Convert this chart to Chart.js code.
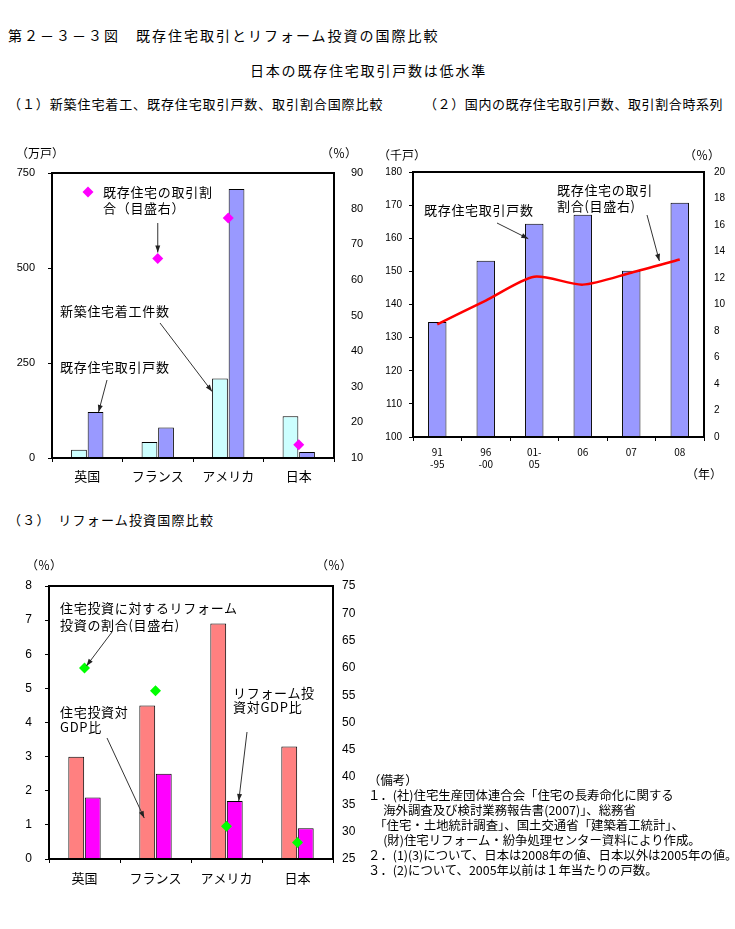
<!DOCTYPE html>
<html lang="ja">
<head>
<meta charset="utf-8">
<script src="https://cdn.jsdelivr.net/npm/chart.js@4.4.0/dist/chart.umd.min.js"></script>
<style>
body { margin: 0; background: #fff; }
#page { position: relative; width: 735px; height: 929px; font-family: 'Noto Sans CJK JP', sans-serif; color: #000; }
.t { position: absolute; white-space: pre; line-height: 16px; font-size: 13px; letter-spacing: 0.7px; }
.u { position: absolute; white-space: pre; line-height: 16px; font-size: 12px; }
canvas { position: absolute; }
#notes { position: absolute; left: 368px; top: 773px; font-size: 12.4px; line-height: 15px; white-space: pre; }
</style>
</head>
<body>
<div id="page">
  <div class="t" style="left:8px;top:27px;font-size:14px;letter-spacing:2px">第２－３－３図　既存住宅取引とリフォーム投資の国際比較</div>
  <div class="t" style="left:250px;top:62px;font-size:14px;letter-spacing:1.8px">日本の既存住宅取引戸数は低水準</div>
  <div class="t" style="left:8px;top:96px;letter-spacing:0.9px">（１）新築住宅着工、既存住宅取引戸数、取引割合国際比較</div>
  <div class="t" style="left:424px;top:96px;letter-spacing:0.6px">（２）国内の既存住宅取引戸数、取引割合時系列</div>
  <div class="t" style="left:8px;top:512px;letter-spacing:1.2px">（３）　リフォーム投資国際比較</div>

  <canvas id="c1" width="370" height="350" style="left:0;top:140px"></canvas>
  <canvas id="c2" width="365" height="350" style="left:370px;top:140px"></canvas>
  <canvas id="c3" width="370" height="340" style="left:0;top:550px"></canvas>

  <div class="u" style="left:16px;top:145px">（万戸）</div>
  <div class="u" style="left:321px;top:145px">（％）</div>
  <div class="t" style="left:103px;top:184px">既存住宅の取引割</div>
  <div class="t" style="left:103px;top:200px">合（目盛右）</div>
  <div class="t" style="left:60px;top:303px">新築住宅着工件数</div>
  <div class="t" style="left:60px;top:359px">既存住宅取引戸数</div>

  <div class="u" style="left:378px;top:147px">（千戸）</div>
  <div class="u" style="left:684px;top:147px">（％）</div>
  <div class="u" style="left:686px;top:466px">（年）</div>
  <div class="t" style="left:424px;top:202px">既存住宅取引戸数</div>
  <div class="t" style="left:557px;top:182px">既存住宅の取引</div>
  <div class="t" style="left:557px;top:198px">割合(目盛右)</div>

  <div class="u" style="left:26px;top:557px">（％）</div>
  <div class="u" style="left:316px;top:557px">（％）</div>
  <div class="t" style="left:60px;top:600px">住宅投資に対するリフォーム</div>
  <div class="t" style="left:60px;top:617px">投資の割合(目盛右)</div>
  <div class="t" style="left:60px;top:704px">住宅投資対</div>
  <div class="t" style="left:60px;top:719px">GDP比</div>
  <div class="t" style="left:233px;top:685px">リフォーム投</div>
  <div class="t" style="left:233px;top:699px">資対GDP比</div>

  <div id="notes">（備考）
１．(社)住宅生産団体連合会「住宅の長寿命化に関する
　 海外調査及び検討業務報告書(2007)」、総務省
　「住宅・土地統計調査」、国土交通省「建築着工統計」、
　 (財)住宅リフォーム・紛争処理センター資料により作成。
２．(1)(3)について、日本は2008年の値、日本以外は2005年の値。
３．(2)について、2005年以前は１年当たりの戸数。</div>
</div>

<script>
// (1) international comparison, 万戸 / %
var countries = ['英国', 'フランス', 'アメリカ', '日本'];
var newStarts = [22, 42, 209, 110];
var existingSales = [121, 80, 708, 16];
var existingShare = [null, 66, 77.4, 13.7];

// (2) Japan time series, 千戸 / %
var periods = [['91', '-95'], ['96', '-00'], ['01-', '05'], '06', '07', '08'];
var jpSales = [134.7, 153.2, 164.4, 167.1, 150.2, 170.7];
var jpShare = [8.5, 10.3, 12.1, 11.5, 12.4, 13.4];

// (3) reform investment, %
var investGdp = [3.0, 4.5, 6.9, 3.3];
var reformGdp = [1.8, 2.5, 1.7, 0.9];
var reformShare = [60, 55.8, 31, 28];

Chart.defaults.font.family = "'Noto Sans CJK JP', sans-serif";
Chart.defaults.color = '#000';
Chart.defaults.animation = false;

var numFont = function (size) { return { family: "'Liberation Sans', Arial, sans-serif", size: size }; };

// black frame round the plot area
var frame = {
  id: 'frame',
  afterDraw: function (chart) {
    var a = chart.chartArea, ctx = chart.ctx;
    ctx.save();
    ctx.strokeStyle = '#000';
    ctx.lineWidth = 2;
    ctx.strokeRect(a.left, a.top, a.right - a.left, a.bottom - a.top);
    ctx.restore();
  }
};

function arrow(ctx, x1, y1, x2, y2) {
  var ang = Math.atan2(y2 - y1, x2 - x1);
  ctx.save();
  ctx.strokeStyle = '#333';
  ctx.fillStyle = '#222';
  ctx.lineWidth = 1;
  ctx.beginPath();
  ctx.moveTo(x1, y1);
  ctx.lineTo(x2, y2);
  ctx.stroke();
  ctx.beginPath();
  ctx.moveTo(x2, y2);
  ctx.lineTo(x2 - 7 * Math.cos(ang) + 2.5 * Math.sin(ang), y2 - 7 * Math.sin(ang) - 2.5 * Math.cos(ang));
  ctx.lineTo(x2 - 7 * Math.cos(ang) - 2.5 * Math.sin(ang), y2 - 7 * Math.sin(ang) + 2.5 * Math.cos(ang));
  ctx.closePath();
  ctx.fill();
  ctx.restore();
}

function fixW(w) { return function (s) { s.width = w; }; }
function fixH(h) { return function (s) { s.height = h; }; }

function xAxis(h, size, pad) {
  return {
    afterFit: fixH(h),
    border: { display: false },
    grid: { offset: true, drawOnChartArea: false, drawTicks: true, tickLength: 4, color: '#000' },
    ticks: { font: { size: size }, padding: pad, maxRotation: 0, autoSkip: false }
  };
}

function yAxis(pos, w, min, max, step, size, pad, tick) {
  return {
    position: pos,
    min: min, max: max,
    afterFit: fixW(w),
    border: { display: false },
    grid: { display: tick, drawOnChartArea: false, tickLength: 4, color: '#000' },
    ticks: { stepSize: step, font: numFont(size), padding: pad }
  };
}

// chart 1
new Chart(document.getElementById('c1'), {
  type: 'bar',
  data: {
    labels: countries,
    datasets: [
      { type: 'line', data: existingShare, yAxisID: 'y1', order: 0, showLine: false,
        pointStyle: 'rectRot', pointRadius: 5.5, backgroundColor: '#FF00FF', borderColor: '#FF00FF', borderWidth: 0 },
      { data: newStarts, yAxisID: 'y', order: 1, backgroundColor: '#CCFFFF', borderColor: '#000', borderWidth: 1,
        categoryPercentage: 0.47, barPercentage: 0.95 },
      { data: existingSales, yAxisID: 'y', order: 1, backgroundColor: '#9999FF', borderColor: '#000', borderWidth: 1,
        categoryPercentage: 0.47, barPercentage: 0.95 }
    ]
  },
  options: {
    responsive: false,
    layout: { padding: { top: 33 } },
    plugins: { legend: { display: false }, tooltip: { enabled: false } },
    scales: {
      x: xAxis(32, 13, 6),
      y: yAxis('left', 52, 0, 750, 250, 11, 13, true),
      y1: yAxis('right', 36, 10, 90, 10, 11, 13, false)
    }
  },
  plugins: [frame, {
    id: 'notes1',
    afterDraw: function (chart) {
      var ctx = chart.ctx;
      var share = chart.getDatasetMeta(0).data;
      var nw = chart.getDatasetMeta(1).data;
      var ex = chart.getDatasetMeta(2).data;
      // legend diamond
      ctx.save();
      ctx.fillStyle = '#FF00FF';
      ctx.beginPath();
      ctx.moveTo(88, 46.5); ctx.lineTo(93.5, 52); ctx.lineTo(88, 57.5); ctx.lineTo(82.5, 52);
      ctx.closePath();
      ctx.fill();
      ctx.restore();
      arrow(ctx, share[1].x, 83, share[1].x, share[1].y - 6);
      arrow(ctx, 160, 183, nw[2].x - nw[2].width / 2, nw[2].y + 13);
      arrow(ctx, 107, 240, ex[0].x + 3, ex[0].y);
    }
  }]
});

// chart 2
new Chart(document.getElementById('c2'), {
  type: 'bar',
  data: {
    labels: periods,
    datasets: [
      { type: 'line', data: jpShare, yAxisID: 'y1', order: 0, borderColor: '#FF0000', borderWidth: 2.5,
        pointRadius: 0, tension: 0.25, fill: false },
      { data: jpSales, yAxisID: 'y', order: 1, backgroundColor: '#9999FF', borderColor: '#000', borderWidth: 1,
        categoryPercentage: 0.38, barPercentage: 1 }
    ]
  },
  options: {
    responsive: false,
    layout: { padding: { top: 32 } },
    plugins: { legend: { display: false }, tooltip: { enabled: false } },
    scales: {
      x: xAxis(53, 10, 5),
      y: yAxis('left', 43, 100, 180, 10, 10, 7, true),
      y1: yAxis('right', 31, 0, 20, 2, 10, 6, false)
    }
  },
  plugins: [frame, {
    id: 'notes2',
    afterDraw: function (chart) {
      var ctx = chart.ctx;
      var line = chart.getDatasetMeta(0).data;
      var bars = chart.getDatasetMeta(1).data;
      arrow(ctx, 127, 83, bars[2].x - 6, bars[2].y + 15);
      var f = 0.58;
      var tx = line[4].x + (line[5].x - line[4].x) * f;
      var ty = line[4].y + (line[5].y - line[4].y) * f - 4;
      arrow(ctx, 277, 75, tx, ty);
    }
  }]
});

// chart 3
new Chart(document.getElementById('c3'), {
  type: 'bar',
  data: {
    labels: countries,
    datasets: [
      { type: 'line', data: reformShare, yAxisID: 'y1', order: 0, showLine: false,
        pointStyle: 'rectRot', pointRadius: 5.5, backgroundColor: '#00FF00', borderColor: '#00FF00', borderWidth: 0 },
      { data: investGdp, yAxisID: 'y', order: 1, backgroundColor: '#FF8080', borderColor: '#000', borderWidth: 1,
        categoryPercentage: 0.465, barPercentage: 0.96 },
      { data: reformGdp, yAxisID: 'y', order: 1, backgroundColor: '#FF00FF', borderColor: '#000', borderWidth: 1,
        categoryPercentage: 0.465, barPercentage: 0.96 }
    ]
  },
  options: {
    responsive: false,
    layout: { padding: { top: 36 } },
    plugins: { legend: { display: false }, tooltip: { enabled: false } },
    scales: {
      x: xAxis(31, 13, 7),
      y: yAxis('left', 49, 0, 8, 1, 12, 13, true),
      y1: yAxis('right', 37, 25, 75, 5, 12, 5, false)
    }
  },
  plugins: [frame, {
    id: 'notes3',
    afterDraw: function (chart) {
      var ctx = chart.ctx;
      var share = chart.getDatasetMeta(0).data;
      var inv = chart.getDatasetMeta(1).data;
      var ref = chart.getDatasetMeta(2).data;
      var y = chart.scales.y;
      arrow(ctx, 112, 82, share[0].x + 2, share[0].y - 2);
      arrow(ctx, 107, 188, inv[1].x - 3, y.getPixelForValue(1.2));
      arrow(ctx, 247, 182, ref[2].x + 4, ref[2].y);
    }
  }]
});
</script>
</body>
</html>
